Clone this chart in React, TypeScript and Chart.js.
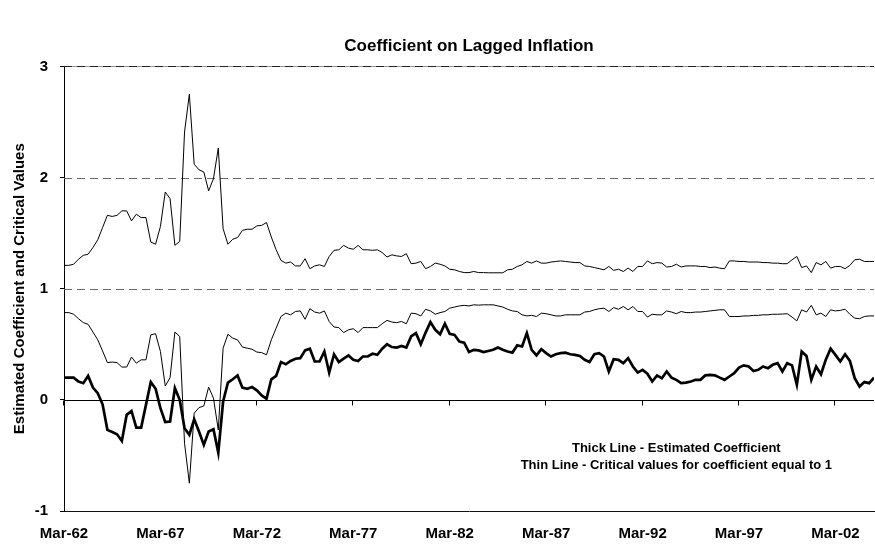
import React, { useEffect, useRef } from 'react';
import { Chart, registerables } from 'chart.js';

Chart.register(...registerables);

// Quarterly observations, Mar-62 (index 0) to Mar-04 (index 168)
const coefficient = [
  0.20, 0.20, 0.20, 0.165, 0.15, 0.215, 0.11, 0.06, -0.04, -0.27,
  -0.29, -0.31, -0.37, -0.135, -0.10, -0.25, -0.25, -0.045, 0.16, 0.10,
  -0.075, -0.20, -0.195, 0.105, 0.0, -0.255, -0.315, -0.175, -0.285, -0.405,
  -0.285, -0.265, -0.475, -0.015, 0.155, 0.185, 0.22, 0.11, 0.10, 0.115,
  0.085, 0.04, 0.01, 0.185, 0.215, 0.34, 0.32, 0.35, 0.37, 0.375,
  0.445, 0.46, 0.345, 0.345, 0.435, 0.245, 0.41, 0.34, 0.37, 0.40,
  0.36, 0.35, 0.39, 0.39, 0.415, 0.405, 0.46, 0.50, 0.475, 0.47,
  0.485, 0.47, 0.57, 0.60, 0.50, 0.605, 0.70, 0.63, 0.59, 0.685,
  0.595, 0.585, 0.525, 0.515, 0.43, 0.45, 0.445, 0.43, 0.44, 0.45,
  0.47, 0.45, 0.435, 0.425, 0.49, 0.48, 0.60, 0.45, 0.40, 0.455,
  0.42, 0.39, 0.41, 0.42, 0.425, 0.41, 0.405, 0.395, 0.36, 0.34,
  0.41, 0.42, 0.39, 0.255, 0.365, 0.36, 0.33, 0.375, 0.30, 0.245,
  0.27, 0.235, 0.165, 0.22, 0.195, 0.255, 0.20, 0.18, 0.15, 0.155,
  0.165, 0.18, 0.18, 0.22, 0.225, 0.22, 0.20, 0.18, 0.21, 0.24,
  0.29, 0.31, 0.30, 0.26, 0.27, 0.30, 0.285, 0.315, 0.33, 0.255,
  0.33, 0.31, 0.135, 0.435, 0.395, 0.18, 0.30, 0.23, 0.36, 0.46,
  0.405, 0.345, 0.41, 0.35, 0.195, 0.12, 0.16, 0.15, 0.20,
];

const upperCritical = [
  1.21, 1.21, 1.22, 1.265, 1.30, 1.31, 1.37, 1.44, 1.55, 1.66,
  1.65, 1.66, 1.70, 1.70, 1.61, 1.67, 1.64, 1.64, 1.42, 1.40,
  1.56, 1.87, 1.81, 1.39, 1.425, 2.41, 2.75, 2.12, 2.07, 2.05,
  1.88, 1.99, 2.265, 1.54, 1.40, 1.445, 1.46, 1.525, 1.535, 1.535,
  1.565, 1.57, 1.595, 1.465, 1.35, 1.255, 1.23, 1.24, 1.205, 1.205,
  1.27, 1.18, 1.205, 1.215, 1.20, 1.29, 1.345, 1.35, 1.39, 1.365,
  1.355, 1.39, 1.35, 1.35, 1.345, 1.35, 1.325, 1.285, 1.305, 1.295,
  1.29, 1.315, 1.225, 1.23, 1.245, 1.18, 1.20, 1.23, 1.22, 1.205,
  1.175, 1.17, 1.155, 1.145, 1.145, 1.155, 1.145, 1.145, 1.143, 1.143,
  1.143, 1.143, 1.17, 1.175, 1.20, 1.215, 1.245, 1.23, 1.25, 1.23,
  1.23, 1.24, 1.245, 1.25, 1.245, 1.24, 1.235, 1.235, 1.205, 1.20,
  1.19, 1.18, 1.17, 1.20, 1.165, 1.175, 1.155, 1.185, 1.155, 1.20,
  1.20, 1.25, 1.225, 1.235, 1.23, 1.195, 1.20, 1.22, 1.195, 1.205,
  1.205, 1.205, 1.20, 1.20, 1.19, 1.195, 1.185, 1.18, 1.25, 1.25,
  1.245, 1.245, 1.24, 1.24, 1.24, 1.235, 1.235, 1.23, 1.23, 1.225,
  1.225, 1.26, 1.29, 1.19, 1.205, 1.145, 1.235, 1.215, 1.245, 1.185,
  1.20, 1.20, 1.18, 1.21, 1.26, 1.265, 1.245, 1.245, 1.245,
];

const lowerCritical = [
  0.785, 0.785, 0.77, 0.73, 0.695, 0.68, 0.61, 0.54, 0.44, 0.335,
  0.34, 0.335, 0.295, 0.295, 0.385, 0.33, 0.36, 0.36, 0.585, 0.595,
  0.435, 0.125, 0.20, 0.61, 0.57, -0.39, -0.75, -0.12, -0.07, -0.055,
  0.115, 0.015, -0.27, 0.465, 0.59, 0.555, 0.54, 0.475, 0.465, 0.455,
  0.43, 0.425, 0.405, 0.54, 0.645, 0.75, 0.78, 0.765, 0.795, 0.80,
  0.725, 0.82, 0.79, 0.78, 0.80, 0.705, 0.655, 0.65, 0.605, 0.63,
  0.64, 0.605, 0.65, 0.65, 0.65, 0.65, 0.685, 0.715, 0.70, 0.695,
  0.705, 0.685, 0.78, 0.775, 0.755, 0.815, 0.80, 0.77, 0.785, 0.795,
  0.825, 0.835, 0.845, 0.85, 0.845, 0.855, 0.852, 0.855, 0.855, 0.855,
  0.845, 0.835, 0.815, 0.80, 0.795, 0.765, 0.755, 0.76, 0.75, 0.78,
  0.775, 0.765, 0.755, 0.755, 0.765, 0.765, 0.765, 0.765, 0.79, 0.795,
  0.81, 0.82, 0.825, 0.795, 0.83, 0.815, 0.84, 0.81, 0.84, 0.795,
  0.795, 0.745, 0.77, 0.765, 0.765, 0.80, 0.79, 0.775, 0.795, 0.785,
  0.785, 0.79, 0.79, 0.795, 0.80, 0.805, 0.81, 0.81, 0.75, 0.75,
  0.75, 0.755, 0.755, 0.76, 0.76, 0.765, 0.765, 0.77, 0.77, 0.772,
  0.775, 0.745, 0.71, 0.81, 0.79, 0.85, 0.765, 0.78, 0.75, 0.81,
  0.80, 0.805, 0.815, 0.77, 0.735, 0.73, 0.75, 0.755, 0.755,
];

const tickQuarters = [0, 20, 40, 60, 80, 100, 120, 140, 160];
const tickLabels = ['Mar-62', 'Mar-67', 'Mar-72', 'Mar-77', 'Mar-82', 'Mar-87', 'Mar-92', 'Mar-97', 'Mar-02'];
const dashedLevels = [1, 2, 3];
const noteLines = ['Thick Line - Estimated Coefficient', 'Thin Line - Critical values for coefficient equal to 1'];
const notePosition = { x: 127, y: [-0.44, -0.59] };

const FONT = "'Liberation Sans', Arial, Helvetica, sans-serif";

const decorPlugin = {
  id: 'decor',
  beforeDatasetsDraw(chart: any) {
    const { ctx, chartArea, scales } = chart;
    const x = scales.x;
    const y = scales.y;
    ctx.save();
    ctx.lineWidth = 1;
    dashedLevels.forEach((v) => {
      const py = Math.round(y.getPixelForValue(v)) + 0.5;
      if (v === 3) {
        ctx.setLineDash([]);
        ctx.strokeStyle = '#9a9a9a';
        ctx.beginPath();
        ctx.moveTo(chartArea.left, py);
        ctx.lineTo(chartArea.right, py);
        ctx.stroke();
      }
      ctx.setLineDash([8, 5]);
      ctx.strokeStyle = v === 3 ? '#222222' : '#6a6a6a';
      ctx.beginPath();
      ctx.moveTo(chartArea.left, py);
      ctx.lineTo(chartArea.right, py);
      ctx.stroke();
    });
    ctx.setLineDash([]);
    const p0 = Math.round(y.getPixelForValue(0)) + 0.5;
    ctx.strokeStyle = '#000';
    ctx.beginPath();
    ctx.moveTo(chartArea.left, p0);
    ctx.lineTo(chartArea.right, p0);
    ctx.stroke();
    tickQuarters.forEach((q) => {
      const px = Math.round(x.getPixelForValue(q)) - 0.5;
      ctx.beginPath();
      ctx.moveTo(px, p0);
      ctx.lineTo(px, p0 + 5);
      ctx.stroke();
    });
    ctx.restore();
  },
  afterDraw(chart: any) {
    const { ctx, scales } = chart;
    ctx.save();
    ctx.fillStyle = '#000';
    ctx.font = `bold 13px ${FONT}`;
    ctx.textAlign = 'center';
    ctx.textBaseline = 'middle';
    noteLines.forEach((t, i) => {
      ctx.fillText(t, scales.x.getPixelForValue(notePosition.x), scales.y.getPixelForValue(notePosition.y[i]));
    });
    ctx.restore();
  },
};

export default function App() {
  const canvasRef = useRef<HTMLCanvasElement | null>(null);

  useEffect(() => {
    if (!canvasRef.current) return;
    const toPoints = (arr: number[]) => arr.map((v, i) => ({ x: i, y: v }));
    const chart = new Chart(canvasRef.current, {
      type: 'line',
      data: {
        datasets: [
          { label: 'Upper critical value', data: toPoints(upperCritical), borderColor: '#000', borderWidth: 1, pointRadius: 0, tension: 0 },
          { label: 'Lower critical value', data: toPoints(lowerCritical), borderColor: '#000', borderWidth: 1, pointRadius: 0, tension: 0 },
          { label: 'Estimated coefficient', data: toPoints(coefficient), borderColor: '#000', borderWidth: 2.7, pointRadius: 0, tension: 0 },
        ],
      },
      options: {
        responsive: false,
        animation: false,
        layout: { padding: { left: 0, right: 1, top: 0, bottom: 0 } },
        plugins: {
          legend: { display: false },
          tooltip: { enabled: false },
          title: {
            display: true,
            fullSize: false,
            text: 'Coefficient on Lagged Inflation',
            color: '#000',
            font: { family: FONT, size: 17, weight: 'bold' },
            padding: { top: 36, bottom: 10 },
          },
        },
        scales: {
          x: {
            type: 'linear',
            min: 0,
            max: 168,
            afterBuildTicks: (scale: any) => {
              scale.ticks = tickQuarters.map((v) => ({ value: v }));
            },
            afterFit: (scale: any) => {
              scale.height = 35;
            },
            ticks: {
              autoSkip: false,
              maxRotation: 0,
              padding: 14,
              color: '#000',
              font: { family: FONT, size: 15, weight: 'bold' },
              callback: (value: any) => {
                const idx = tickQuarters.indexOf(Number(value));
                return idx >= 0 ? tickLabels[idx] : '';
              },
            },
            grid: { display: true, drawOnChartArea: false, drawTicks: false },
            border: { display: true, color: '#111', width: 1 },
          },
          y: {
            type: 'linear',
            min: -1,
            max: 3,
            afterFit: (scale: any) => {
              scale.width = 64;
            },
            ticks: {
              stepSize: 1,
              padding: 12,
              color: '#000',
              font: { family: FONT, size: 15, weight: 'bold' },
            },
            grid: { display: true, drawOnChartArea: false, drawTicks: true, tickLength: 4, tickColor: '#000' },
            border: { display: true, color: '#000', width: 1 },
            title: {
              display: true,
              text: 'Estimated Coefficient and Critical Values',
              color: '#000',
              font: { family: FONT, size: 15, weight: 'bold' },
              padding: { top: 11, bottom: 0 },
            },
          },
        },
      },
      plugins: [decorPlugin],
    } as any);
    return () => chart.destroy();
  }, []);

  return (
    <div style={{ position: 'fixed', left: 0, top: 0, width: 875, height: 546, background: '#fff' }}>
      <canvas ref={canvasRef} width={875} height={546} style={{ width: 875, height: 546 }} />
    </div>
  );
}
